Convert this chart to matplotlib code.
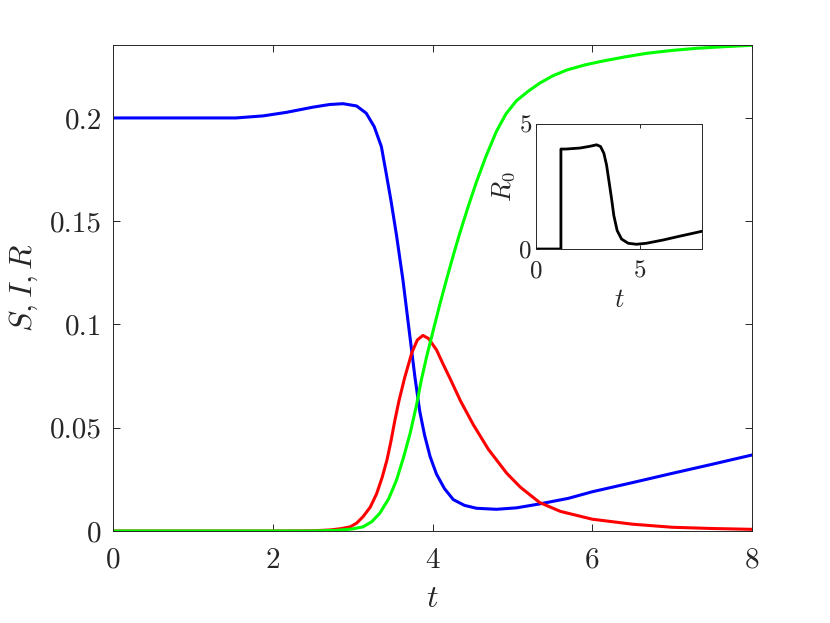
# !usr/bin/env python

import numpy as np
import matplotlib
matplotlib.use('Agg')
import matplotlib.pyplot as plt

plt.rcParams['font.family'] = 'serif'
plt.rcParams['font.serif'] = ['cmr10']
plt.rcParams['mathtext.fontset'] = 'cm'
plt.rcParams['axes.unicode_minus'] = False

# S (azul)
t_S = [0, 1.0, 1.54, 1.88, 2.17, 2.50, 2.71, 2.88, 3.05, 3.17, 3.27, 3.36, 3.42, 3.48,
       3.55, 3.63, 3.70, 3.78, 3.84, 3.90, 3.97, 4.05, 4.15, 4.26, 4.40, 4.55, 4.80,
       5.05, 5.34, 5.7, 6.0, 6.5, 7.0, 7.5, 8.0]
S = [0.2, 0.2, 0.2, 0.2010, 0.2027, 0.2052, 0.2065, 0.2069, 0.2058, 0.2023, 0.1958,
     0.1861, 0.1732, 0.160, 0.143, 0.1215, 0.0995, 0.0745, 0.058, 0.0465, 0.036, 0.0275,
     0.0205, 0.0152, 0.0124, 0.0110, 0.0105, 0.0112, 0.0131, 0.0158, 0.019, 0.0234,
     0.0279, 0.0323, 0.0368]

# I (rojo)
t_I = [0, 2.0, 2.5, 2.72, 2.85, 2.97, 3.05, 3.13, 3.22, 3.30, 3.37, 3.43, 3.48, 3.53,
       3.58, 3.65, 3.74, 3.81, 3.88, 3.95, 4.05, 4.13, 4.22, 4.35, 4.51, 4.7, 4.93, 5.1,
       5.34, 5.6, 6.0, 6.5, 7.0, 7.5, 8.0]
I = [0, 0, 0.0001, 0.0005, 0.0011, 0.002, 0.0038, 0.0069, 0.0115, 0.018, 0.026, 0.0344,
     0.0435, 0.0538, 0.063, 0.074, 0.0862, 0.0925, 0.0947, 0.0932, 0.0877, 0.081, 0.0738,
     0.063, 0.0515, 0.0395, 0.0279, 0.0212, 0.0138, 0.0095, 0.0057, 0.0033, 0.0018,
     0.0012, 0.0008]

# R (verde)
t_R = [0, 2.5, 2.8, 3.0, 3.13, 3.24, 3.34, 3.45, 3.55, 3.64, 3.72, 3.80, 3.86, 3.93,
       4.01, 4.09, 4.17, 4.26, 4.34, 4.45, 4.55, 4.67, 4.80, 4.92, 5.05, 5.2, 5.34, 5.5,
       5.68, 5.9, 6.10, 6.4, 6.68, 7.0, 7.30, 7.65, 8.0]
R = [0, 0, 0.0003, 0.001, 0.002, 0.0045, 0.0086, 0.0155, 0.0247, 0.036, 0.0473, 0.0610,
     0.0731, 0.0850, 0.0973, 0.1095, 0.121, 0.1335, 0.1440, 0.1575, 0.1690, 0.1815,
     0.1935, 0.2020, 0.2083, 0.2130, 0.2168, 0.2203, 0.2232, 0.2256, 0.2273, 0.2295,
     0.2313, 0.2327, 0.2337, 0.2345, 0.2352]

# R0 (recuadro)
t_R0 = [0, 1.20, 1.20, 1.45, 2.12, 2.60, 2.92, 3.11, 3.27, 3.40, 3.52, 3.64, 3.75, 3.91,
        4.12, 4.44, 4.84, 5.32, 6.12, 6.91, 8.0]
R0 = [0, 0, 4.00, 4.00, 4.04, 4.11, 4.17, 4.10, 3.83, 3.36, 2.69, 2.02, 1.34, 0.74,
      0.40, 0.23, 0.19, 0.23, 0.36, 0.51, 0.71]

xticks = [0, 2, 4, 6, 8]
yticks = [0, 0.05, 0.1, 0.15, 0.2]
ytick_labels = ['0', '0.05', '0.1', '0.15', '0.2']
xticks_in = [0, 5]
yticks_in = [0, 5]

eje_color = '#262626'

fig = plt.figure(figsize=(8.3, 6.23), dpi=100)
ax = fig.add_axes([0.1361, 0.1477, 0.770, 0.780])
ax.plot(t_S, S, color=(0, 0, 1), lw=2.2)
ax.plot(t_I, I, color=(1, 0, 0), lw=2.2)
ax.plot(t_R, R, color=(0, 1, 0), lw=2.2)
ax.set_xlim(0, 8)
ax.set_ylim(0, 0.2353)
ax.set_xticks(xticks)
ax.set_xticklabels([str(v) for v in xticks])
ax.set_yticks(yticks)
ax.set_yticklabels(ytick_labels)
ax.tick_params(direction='in', top=True, right=True, length=5, width=0.7,
               labelsize=21, color=eje_color, labelcolor=eje_color)
ax.tick_params(axis='x', pad=12)
ax.tick_params(axis='y', pad=8)
for s in ax.spines.values():
    s.set_color(eje_color)
    s.set_linewidth(0.7)
ax.set_xlabel('$t$', fontsize=23, color=eje_color, labelpad=8)
ax.set_ylabel('$S, I, R$', fontsize=23, color=eje_color, labelpad=7)

ins = fig.add_axes([0.6458, 0.6003, 0.2, 0.2006])
ins.plot(t_R0, R0, color='k', lw=2.0)
ins.set_xlim(0, 8)
ins.set_ylim(0, 5)
ins.set_xticks(xticks_in)
ins.set_xticklabels([str(v) for v in xticks_in])
ins.set_yticks(yticks_in)
ins.set_yticklabels([str(v) for v in yticks_in])
ins.tick_params(direction='in', top=True, right=True, length=3, width=0.7,
                labelsize=18, color=eje_color, labelcolor=eje_color)
ins.tick_params(axis='x', pad=8)
ins.tick_params(axis='y', pad=3)
for s in ins.spines.values():
    s.set_color(eje_color)
    s.set_linewidth(0.7)
ins.set_xlabel('$t$', fontsize=19, color=eje_color, labelpad=4)
ins.set_ylabel('$R_0$', fontsize=19, color=eje_color, labelpad=2)

fig.savefig('out.png', dpi=100)
